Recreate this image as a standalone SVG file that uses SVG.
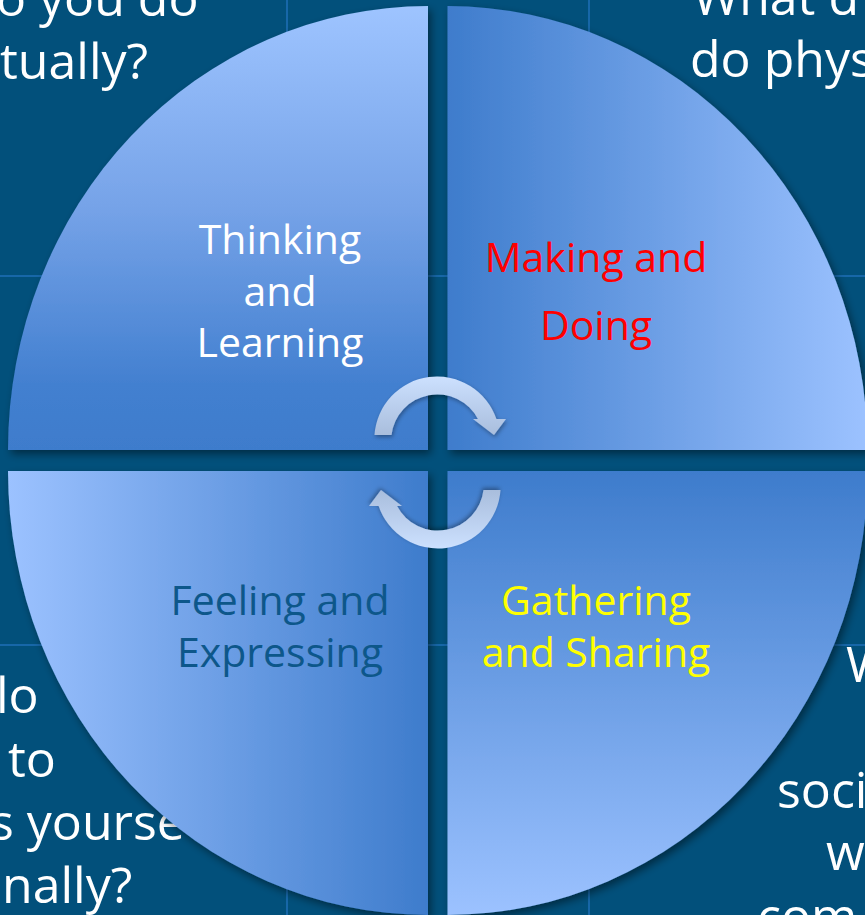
<svg xmlns="http://www.w3.org/2000/svg" width="865" height="915" viewBox="0 0 865 915">
  <defs>
    <style>
      .bgtxt { font-family: "Open Sans", "Liberation Sans", sans-serif; font-size: 50px; fill: #ffffff; }
      .lbl { font-family: "Open Sans", "Liberation Sans", sans-serif; font-size: 41px; text-anchor: middle; }
      .grid { stroke: #1767A8; stroke-width: 2; fill: none; }
    </style>
    <linearGradient id="gTL" gradientUnits="userSpaceOnUse" x1="0" y1="6" x2="0" y2="450">
      <stop offset="0" stop-color="#9EC4FF"/>
      <stop offset="0.45" stop-color="#76A3E8"/>
      <stop offset="0.85" stop-color="#4380D0"/>
      <stop offset="1" stop-color="#3E7CCC"/>
    </linearGradient>
    <linearGradient id="gTR" gradientUnits="userSpaceOnUse" x1="447" y1="0" x2="867" y2="0">
      <stop offset="0" stop-color="#3E7CCC"/>
      <stop offset="1" stop-color="#9CC2FF"/>
    </linearGradient>
    <linearGradient id="gBL" gradientUnits="userSpaceOnUse" x1="8" y1="0" x2="428" y2="0">
      <stop offset="0" stop-color="#9CC2FF"/>
      <stop offset="1" stop-color="#3E7CCC"/>
    </linearGradient>
    <linearGradient id="gBR" gradientUnits="userSpaceOnUse" x1="0" y1="471" x2="0" y2="915">
      <stop offset="0" stop-color="#3E7CCC"/>
      <stop offset="1" stop-color="#9CC2FF"/>
    </linearGradient>
    <linearGradient id="gArrow" gradientUnits="userSpaceOnUse" x1="0" y1="377" x2="0" y2="436">
      <stop offset="0" stop-color="#CCE0FE"/>
      <stop offset="1" stop-color="#A8BDDC"/>
    </linearGradient>
    <filter id="shadow" x="-10%" y="-10%" width="120%" height="120%">
      <feDropShadow dx="3" dy="4" stdDeviation="4" flood-color="#000000" flood-opacity="0.45"/>
    </filter>
    <filter id="ashadow" x="-20%" y="-20%" width="140%" height="140%">
      <feDropShadow dx="1" dy="2" stdDeviation="2" flood-color="#000000" flood-opacity="0.35"/>
    </filter>
    <path id="arrow" d="M 374.5 435 A 62.7 62.7 0 0 1 496.4 419 L 506 419 L 494 435 L 473 419 L 477.9 419 A 46 46 0 0 0 391.5 435 Z"/>
  </defs>

  <rect x="0" y="0" width="865" height="915" fill="#02507B"/>

  <g id="grid">
    <line class="grid" x1="287" y1="0" x2="287" y2="448"/>
    <line class="grid" x1="287" y1="474" x2="287" y2="915"/>
    <line class="grid" x1="589" y1="0" x2="589" y2="448"/>
    <line class="grid" x1="589" y1="474" x2="589" y2="915"/>
    <line class="grid" x1="0" y1="276" x2="865" y2="276"/>
    <line class="grid" x1="0" y1="645" x2="865" y2="645"/>
  </g>

  <g id="background-text">
    <text class="bgtxt" x="-4" y="16">o you do</text>
    <text class="bgtxt" x="0" y="79">tually?</text>
    <text class="bgtxt" x="693" y="15">What d</text>
    <text class="bgtxt" x="690" y="77">do phys</text>
    <text class="bgtxt" x="-4" y="713">lo</text>
    <text class="bgtxt" x="8" y="777">to</text>
    <text class="bgtxt" x="-10" y="840">s yourse</text>
    <text class="bgtxt" x="2" y="903">nally?</text>
    <text class="bgtxt" x="846" y="682">W</text>
    <text class="bgtxt" x="777" y="808">soci</text>
    <text class="bgtxt" x="826" y="870">w</text>
    <text class="bgtxt" x="757" y="934">com</text>
  </g>

  <g id="thinking-learning">
    <path d="M 428 450 L 8 450 A 420 444 0 0 1 428 6 Z" fill="url(#gTL)" filter="url(#shadow)"/>
    <text class="lbl" fill="#FFFFFF"><tspan x="280" y="254">Thinking</tspan><tspan x="280" y="306">and</tspan><tspan x="280" y="357">Learning</tspan></text>
  </g>

  <g id="making-doing">
    <path d="M 447.5 450 L 447.5 6 A 420 444 0 0 1 867.5 450 Z" fill="url(#gTR)" filter="url(#shadow)"/>
    <text class="lbl" fill="#FF0000"><tspan x="596" y="272">Making and</tspan><tspan x="596" y="340">Doing</tspan></text>
  </g>

  <g id="feeling-expressing">
    <path d="M 428 471 L 428 915 A 420 444 0 0 1 8 471 Z" fill="url(#gBL)" filter="url(#shadow)"/>
    <text class="lbl" fill="#0D578A"><tspan x="280" y="615">Feeling and</tspan><tspan x="280" y="667">Expressing</tspan></text>
  </g>

  <g id="gathering-sharing">
    <path d="M 447.5 471 L 867.5 471 A 420 444 0 0 1 447.5 915 Z" fill="url(#gBR)" filter="url(#shadow)"/>
    <text class="lbl" fill="#FFFF00"><tspan x="596" y="615">Gathering</tspan><tspan x="596" y="667">and Sharing</tspan></text>
  </g>

  <g id="connectors">
    <use href="#arrow" fill="url(#gArrow)" filter="url(#ashadow)"/>
    <use href="#arrow" fill="url(#gArrow)" filter="url(#ashadow)" transform="rotate(180 437.5 462.5)"/>
  </g>
</svg>
